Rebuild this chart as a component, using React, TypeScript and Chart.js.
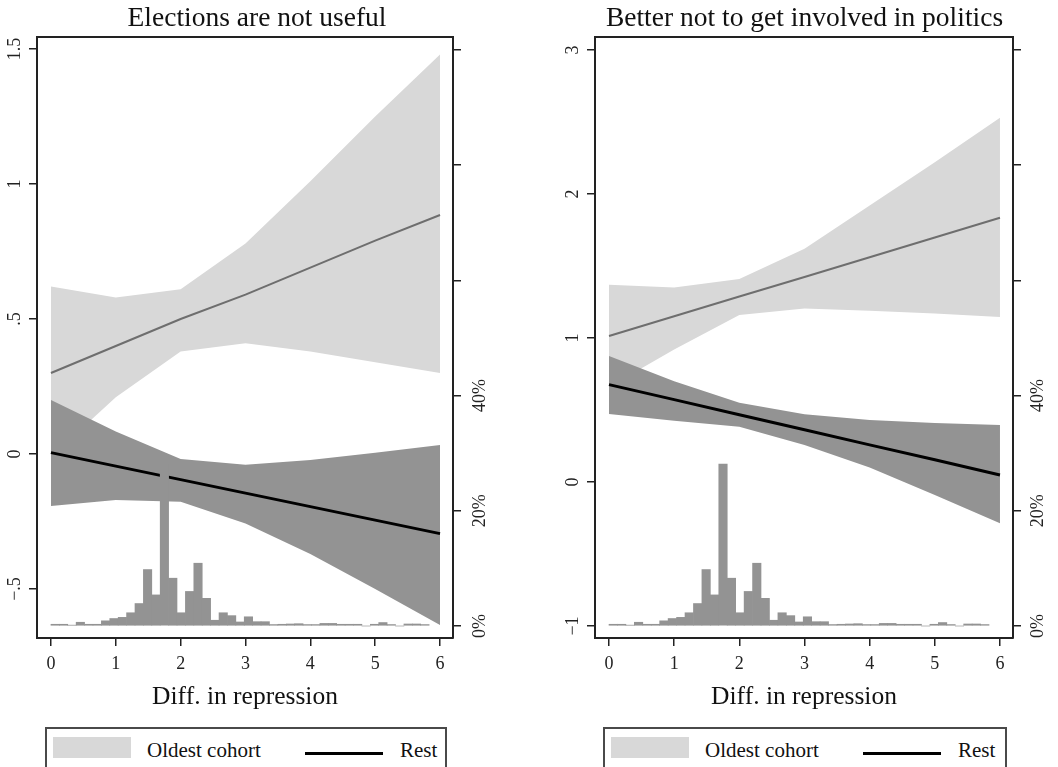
import React, { useEffect, useRef } from "react";
import { Chart, registerables } from "chart.js";

Chart.register(...registerables);

const SERIF = "'Liberation Serif', 'Times New Roman', serif";
Chart.defaults.font.family = SERIF;

// ---------- shared data ----------
const xEval = [0, 1, 2, 3, 4, 5, 6];
const xTicks = [0, 1, 2, 3, 4, 5, 6];
const pctTicks = [0, 20, 40, 60, 80, 100];
const pctTickLabels = ["0%", "20%", "40%", "", "", ""];
const xTitle = "Diff. in repression";
const legendLabels = ["Oldest cohort", "Rest"];

// histogram of Diff. in repression (percent per bin)
const histBinWidth = 0.1296;
const histPct = [
  0.3, 0.3, 0.15, 0.65, 0.3, 0.3, 0.9, 1.3, 1.5, 2.3,
  3.9, 9.8, 5.4, 28.1, 8.3, 2.3, 6.0, 10.9, 4.8, 1.0,
  2.3, 1.8, 0.7, 1.6, 0.75, 0.75, 0.25, 0.3, 0.35, 0.4,
  0.25, 0.25, 0.45, 0.45, 0.3, 0.3, 0.3, 0, 0.3, 0.6,
  0.25, 0, 0.35, 0.35, 0.25,
];

// ---------- panel 1 ----------
const title1 = "Elections are not useful";
const yTicks1 = [-0.5, 0, 0.5, 1, 1.5];
const yTickLabels1 = ["\u2212.5", "0", ".5", "1", "1.5"];
const oldestLine1 = [0.3, 0.4, 0.5, 0.59, 0.69, 0.79, 0.885];
const oldestHi1 = [0.62, 0.58, 0.61, 0.78, 1.01, 1.25, 1.48];
const oldestLo1 = [-0.01, 0.21, 0.38, 0.41, 0.38, 0.34, 0.3];
const restLine1 = [0.005, -0.045, -0.095, -0.145, -0.195, -0.245, -0.295];
const restHi1 = [0.2, 0.083, -0.019, -0.04, -0.022, 0.005, 0.033];
const restLo1 = [-0.193, -0.17, -0.177, -0.257, -0.37, -0.5, -0.633];

// ---------- panel 2 ----------
const title2 = "Better not to get involved in politics";
const yTicks2 = [-1, 0, 1, 2, 3];
const yTickLabels2 = ["\u22121", "0", "1", "2", "3"];
const oldestLine2 = [1.014, 1.151, 1.288, 1.424, 1.561, 1.698, 1.835];
const oldestHi2 = [1.37, 1.35, 1.41, 1.62, 1.92, 2.22, 2.53];
const oldestLo2 = [0.66, 0.92, 1.16, 1.205, 1.19, 1.17, 1.145];
const restLine2 = [0.676, 0.572, 0.467, 0.363, 0.258, 0.154, 0.049];
const restHi2 = [0.875, 0.7, 0.55, 0.47, 0.43, 0.41, 0.395];
const restLo2 = [0.472, 0.425, 0.384, 0.257, 0.1, -0.09, -0.287];

const LIGHT = "#d8d8d8";
const DARK = "#939393";
const OLDEST_LINE = "#6e6e6e";
const AXIS = "#222222";

type PanelCfg = {
  title: string;
  yTicks: number[];
  yTickLabels: string[];
  yMin: number;
  yMax: number;
  oldestLine: number[];
  oldestHi: number[];
  oldestLo: number[];
  restLine: number[];
  restHi: number[];
  restLo: number[];
  padLeft: number;
  padRight: number;
  yWidth: number;
  y2Width: number;
  yPad: number;
  y2Pad: number;
};

const panel1: PanelCfg = {
  title: title1,
  yTicks: yTicks1,
  yTickLabels: yTickLabels1,
  yMin: -0.6815,
  yMax: 1.5444,
  oldestLine: oldestLine1,
  oldestHi: oldestHi1,
  oldestLo: oldestLo1,
  restLine: restLine1,
  restHi: restHi1,
  restLo: restLo1,
  padLeft: 0,
  padRight: 15,
  yWidth: 37,
  y2Width: 61,
  yPad: 2.2,
  y2Pad: 2.5,
};

const panel2: PanelCfg = {
  title: title2,
  yTicks: yTicks2,
  yTickLabels: yTickLabels2,
  yMin: -1.0833,
  yMax: 3.0903,
  oldestLine: oldestLine2,
  oldestHi: oldestHi2,
  oldestLo: oldestLo2,
  restLine: restLine2,
  restHi: restHi2,
  restLo: restLo2,
  padLeft: 22,
  padRight: 0,
  yWidth: 44,
  y2Width: 45,
  yPad: 4.4,
  y2Pad: 0.5,
};

const X_MIN = -0.215;
const X_MAX = 6.2;

function buildConfig(p: PanelCfg): any {
  const pts = (arr: number[]) => arr.map((y, i) => ({ x: xEval[i], y }));
  const hist = histPct.map((y, i) => ({ x: (i + 0.5) * histBinWidth, y }));
  const band = (data: number[], fill: any, color: string, order: number) => ({
    type: "line",
    data: pts(data),
    borderWidth: 0,
    borderColor: "rgba(0,0,0,0)",
    backgroundColor: color,
    pointRadius: 0,
    tension: 0,
    fill,
    order,
    xAxisID: "x",
    yAxisID: "y",
  });
  const tickFont = { family: SERIF, size: 18 };
  const gridOpts = {
    drawOnChartArea: false,
    drawTicks: true,
    tickLength: 8,
    color: AXIS,
    lineWidth: 1.5,
    offset: false,
  };
  return {
    type: "line",
    data: {
      datasets: [
        band(p.oldestHi, "+1", LIGHT, 7),
        band(p.oldestLo, false, LIGHT, 6),
        band(p.restHi, "+1", DARK, 5),
        band(p.restLo, false, DARK, 4),
        {
          type: "line",
          label: legendLabels[0],
          data: pts(p.oldestLine),
          borderColor: OLDEST_LINE,
          borderWidth: 2,
          pointRadius: 0,
          tension: 0,
          fill: false,
          order: 3,
          xAxisID: "x",
          yAxisID: "y",
        },
        {
          type: "line",
          label: legendLabels[1],
          data: pts(p.restLine),
          borderColor: "#000000",
          borderWidth: 3,
          pointRadius: 0,
          tension: 0,
          fill: false,
          order: 2,
          xAxisID: "x",
          yAxisID: "y",
        },
        {
          type: "bar",
          data: hist,
          backgroundColor: DARK,
          borderWidth: 0,
          barPercentage: 1,
          categoryPercentage: 1,
          order: 1,
          xAxisID: "x",
          yAxisID: "y2",
        },
      ],
    },
    options: {
      animation: false,
      responsive: false,
      devicePixelRatio: 1,
      events: [],
      layout: { padding: { left: p.padLeft, right: p.padRight, top: 0, bottom: 53 } },
      plugins: {
        legend: { display: false },
        tooltip: { enabled: false },
        title: {
          display: true,
          text: p.title,
          color: "#111111",
          font: { family: SERIF, size: 27.5, weight: "normal", lineHeight: 1.2 },
          padding: { top: 2, bottom: 2 },
        },
      },
      scales: {
        x: {
          type: "linear",
          position: "bottom",
          min: X_MIN,
          max: X_MAX,
          bounds: "data",
          offset: false,
          afterBuildTicks: (s: any) => {
            s.ticks = xTicks.map((v) => ({ value: v }));
          },
          afterFit: (s: any) => {
            s.height = 76;
          },
          ticks: {
            font: tickFont,
            color: AXIS,
            padding: 7,
            autoSkip: false,
            maxRotation: 0,
            minRotation: 0,
            callback: (v: any) => String(v),
          },
          grid: gridOpts,
          border: { display: true, color: AXIS, width: 2 },
          title: {
            display: true,
            text: xTitle,
            color: "#111111",
            font: { family: SERIF, size: 25.5, lineHeight: 1.2 },
            padding: { top: 0, bottom: 1 },
          },
        },
        xTop: {
          type: "linear",
          axis: "x",
          position: "top",
          min: X_MIN,
          max: X_MAX,
          offset: false,
          ticks: { display: false },
          grid: { display: false, drawTicks: false, offset: false },
          border: { display: true, color: AXIS, width: 2 },
          afterFit: (s: any) => {
            s.height = 0;
          },
        },
        y: {
          type: "linear",
          position: "left",
          min: p.yMin,
          max: p.yMax,
          bounds: "data",
          afterBuildTicks: (s: any) => {
            s.ticks = p.yTicks.map((v) => ({ value: v }));
          },
          afterFit: (s: any) => {
            s.width = p.yWidth;
          },
          ticks: {
            font: tickFont,
            color: AXIS,
            padding: p.yPad,
            autoSkip: false,
            minRotation: 90,
            maxRotation: 90,
            crossAlign: "center",
            callback: (_v: any, i: number) => p.yTickLabels[i],
          },
          grid: gridOpts,
          border: { display: true, color: AXIS, width: 2 },
        },
        y2: {
          type: "linear",
          position: "right",
          min: -2.083,
          max: 102.26,
          bounds: "data",
          afterBuildTicks: (s: any) => {
            s.ticks = pctTicks.map((v) => ({ value: v }));
          },
          afterFit: (s: any) => {
            s.width = p.y2Width;
          },
          ticks: {
            font: tickFont,
            color: AXIS,
            padding: p.y2Pad,
            autoSkip: false,
            minRotation: 90,
            maxRotation: 90,
            crossAlign: "center",
            callback: (_v: any, i: number) => pctTickLabels[i],
          },
          grid: gridOpts,
          border: { display: true, color: AXIS, width: 2 },
        },
      },
    },
  };
}

function Panel({ cfg, left }: { cfg: PanelCfg; left: number }) {
  const ref = useRef<HTMLCanvasElement>(null);
  useEffect(() => {
    const chart = new Chart(ref.current as HTMLCanvasElement, buildConfig(cfg));
    return () => chart.destroy();
  }, [cfg]);
  return (
    <canvas
      ref={ref}
      width={529}
      height={767}
      style={{ position: "absolute", left, top: 0, width: 529, height: 767 }}
    />
  );
}

function Legend({ left, width }: { left: number; width: number }) {
  const textStyle: React.CSSProperties = {
    position: "absolute",
    top: 11,
    fontFamily: SERIF,
    fontSize: 21,
    lineHeight: "21px",
    color: "#111",
    whiteSpace: "nowrap",
  };
  return (
    <div
      style={{
        position: "absolute",
        left,
        top: 727,
        width,
        height: 46,
        border: "2px solid #4a4a4a",
        boxSizing: "border-box",
        background: "#fff",
      }}
    >
      <div style={{ position: "absolute", left: 6, top: 8, width: 78, height: 21, background: LIGHT }} />
      <span style={{ ...textStyle, left: 100 }}>{legendLabels[0]}</span>
      <div style={{ position: "absolute", left: 258, top: 23, width: 78, height: 3, background: "#000" }} />
      <span style={{ ...textStyle, left: 353 }}>{legendLabels[1]}</span>
    </div>
  );
}

export default function App() {
  return (
    <div
      style={{
        position: "fixed",
        left: 0,
        top: 0,
        width: 1058,
        height: 767,
        overflow: "hidden",
        background: "#fff",
      }}
    >
      <Panel cfg={panel1} left={0} />
      <Panel cfg={panel2} left={529} />
      <Legend left={45} width={402} />
      <Legend left={603} width={404} />
    </div>
  );
}
